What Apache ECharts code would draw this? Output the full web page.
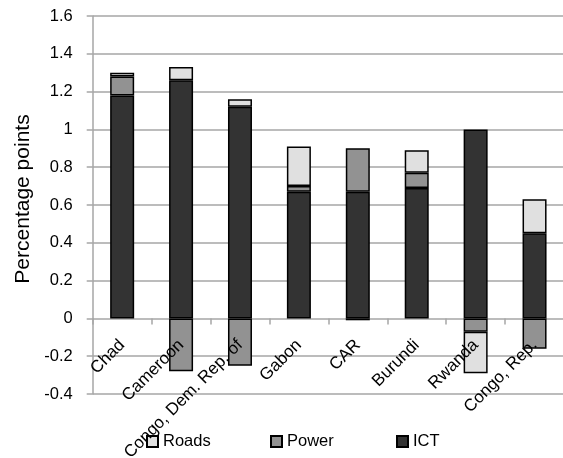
<!DOCTYPE html>
<html>
<head>
<meta charset="utf-8">
<script src="https://cdn.jsdelivr.net/npm/echarts@6/dist/echarts.min.js"></script>
<style>
html,body{margin:0;padding:0;background:#fff;}
#chart{width:563px;height:458px;}
</style>
</head>
<body>
<div id="chart"></div>
<script>
var categories = ["Chad", "Cameroon", "Congo, Dem. Rep. of", "Gabon", "CAR", "Burundi", "Rwanda", "Congo, Rep."];
var ict = [1.18, 1.26, 1.12, 0.67, 0.67, 0.69, 1.00, 0.45];
var power = [0.10, -0.28, -0.25, 0.03, 0.23, 0.08, -0.07, -0.16];
var roads = [0.02, 0.07, 0.04, 0.21, -0.01, 0.12, -0.22, 0.18];
var yTicks = { min: -0.4, max: 1.6, interval: 0.2 };
var legendNames = ['Roads', 'Power', 'ICT'];

var FONT = "'Liberation Sans', Arial, sans-serif";
var chart = echarts.init(document.getElementById('chart'), null, { renderer: 'canvas' });

var GRID_TOP = 16, GRID_BOTTOM = 64, H = 458;
var gridH = H - GRID_TOP - GRID_BOTTOM;
var zeroOffset = -gridH * (0 - yTicks.min) / (yTicks.max - yTicks.min);

function barSeries(name, data, color) {
  return {
    name: name,
    type: 'bar',
    stack: 'total',
    data: data,
    barWidth: 24,
    itemStyle: { color: color, borderColor: '#000', borderWidth: 1.5 },
    emphasis: { disabled: true }
  };
}

var legendLefts = [146, 270, 396];
var legends = legendNames.map(function (n, i) {
  return {
    data: [n],
    left: legendLefts[i],
    top: 433,
    itemWidth: 11,
    itemHeight: 11,
    icon: 'rect',
    padding: 0,
    textStyle: { fontFamily: FONT, fontSize: 16.5, color: '#000' }
  };
});

chart.setOption({
  animation: false,
  backgroundColor: '#fff',
  textStyle: { fontFamily: FONT },
  grid: { left: 92.7, right: -1, top: GRID_TOP, bottom: GRID_BOTTOM, containLabel: false, outerBoundsMode: 'none' },
  legend: legends,
  xAxis: {
    type: 'category',
    data: categories,
    offset: zeroOffset,
    z: 10,
    axisLine: { show: false, onZero: false },
    axisTick: { show: true, length: 6, lineStyle: { color: '#a6a6a6', width: 1.5 } },
    axisLabel: {
      rotate: 45,
      interval: 0,
      margin: 24,
      verticalAlign: 'middle',
      fontFamily: FONT,
      fontSize: 17,
      color: '#000'
    },
    splitLine: { show: false }
  },
  yAxis: {
    type: 'value',
    min: yTicks.min,
    max: yTicks.max,
    interval: yTicks.interval,
    name: 'Percentage points',
    nameLocation: 'middle',
    nameGap: 59,
    nameTextStyle: { fontFamily: FONT, fontSize: 21, color: '#000', padding: [0, 0, 0, 12] },
    axisLine: { show: true, lineStyle: { color: '#a6a6a6', width: 1.5 } },
    axisTick: { show: true, length: 6, lineStyle: { color: '#a6a6a6', width: 1.5 } },
    axisLabel: { margin: 20, fontFamily: FONT, fontSize: 16.5, color: '#000' },
    splitLine: { show: true, lineStyle: { color: '#a6a6a6', width: 1.5 } }
  },
  series: [
    barSeries('ICT', ict, '#333333'),
    barSeries('Power', power, '#929292'),
    barSeries('Roads', roads, '#e0e0e0')
  ]
});
</script>
</body>
</html>
